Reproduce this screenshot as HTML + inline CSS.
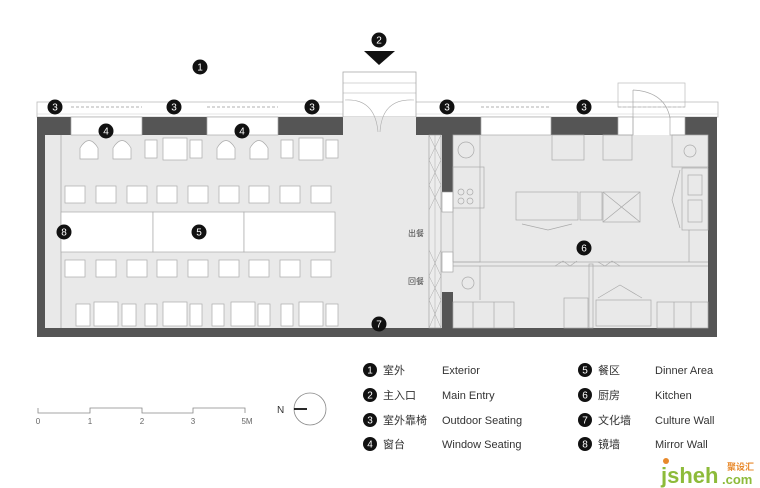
<!DOCTYPE html>
<html><head><meta charset="utf-8"><style>
html,body{margin:0;padding:0;background:#fff;}
svg{display:block;}
text{font-family:"Liberation Sans","Noto Sans CJK SC",sans-serif;}
</style></head><body>
<svg width="760" height="488" viewBox="0 0 760 488" xmlns="http://www.w3.org/2000/svg">
<rect x="37" y="102" width="681" height="15" fill="#fff" stroke="#bbb" stroke-width="0.8"/>
<line x1="37" y1="114" x2="718" y2="114" stroke="#ccc" stroke-width="0.6"/>
<rect x="45" y="135" width="663" height="193" fill="#e9e9e9"/>
<g fill="#555">
<rect x="37" y="117" width="8" height="220"/>
<rect x="37" y="328" width="680" height="9"/>
<rect x="708" y="117" width="9" height="220"/>
<rect x="37" y="117" width="34" height="18"/>
<rect x="142" y="117" width="65" height="18"/>
<rect x="278" y="117" width="65" height="18"/>
<rect x="416" y="117" width="65" height="18"/>
<rect x="551" y="117" width="67" height="18"/>
<rect x="685" y="117" width="32" height="18"/>
<rect x="442" y="135" width="11" height="57"/>
<rect x="442" y="292" width="11" height="36"/>
</g>
<g fill="#fff" stroke="#aaa" stroke-width="0.7">
<rect x="71" y="117" width="71" height="18"/><rect x="207" y="117" width="71" height="18"/>
<rect x="481" y="117" width="70" height="18"/>
<rect x="618" y="117" width="15" height="18"/><rect x="670" y="117" width="15" height="18"/>
</g>
<g stroke="#999" stroke-width="0.7" stroke-dasharray="3,2" fill="none">
<line x1="71" y1="107" x2="142" y2="107"/><line x1="207" y1="107" x2="278" y2="107"/>
<line x1="481" y1="107" x2="551" y2="107"/><line x1="618" y1="107" x2="685" y2="107"/>
</g>
<rect x="343" y="72" width="73" height="45" fill="#fff" stroke="#aaa" stroke-width="0.8"/>
<rect x="343" y="117" width="73" height="18" fill="#e9e9e9"/>
<line x1="343" y1="83" x2="416" y2="83" stroke="#aaa" stroke-width="0.6"/>
<line x1="343" y1="93" x2="416" y2="93" stroke="#aaa" stroke-width="0.6"/>
<path d="M345 100 Q375 98 378 132 M414 100 Q382 98 380 132" stroke="#aaa" fill="none" stroke-width="0.6"/>
<polygon points="364,51 395,51 379,65" fill="#111"/>
<rect x="618" y="83" width="67" height="24" fill="none" stroke="#bbb" stroke-width="0.7"/>
<path d="M633 90 L633 135 M633 90 Q665 92 670 118" stroke="#aaa" fill="none" stroke-width="0.7"/>
<line x1="61" y1="135" x2="61" y2="328" stroke="#aaa" stroke-width="0.8"/>
<rect x="429" y="135" width="12" height="193" fill="#ececec" stroke="#999" stroke-width="0.6"/>
<line x1="435" y1="135" x2="435" y2="328" stroke="#aaa" stroke-width="0.5"/>
<path d="M429 135 L441 160 L429 185 L441 210 M429 250 L441 276 L429 300 L441 328 M441 135 L429 160 L441 185 L429 210 M441 250 L429 276 L441 300 L429 328" stroke="#aaa" fill="none" stroke-width="0.5"/>
<rect x="442" y="192" width="11" height="20" fill="#fff" stroke="#999" stroke-width="0.6"/>
<rect x="442" y="252" width="11" height="20" fill="#fff" stroke="#999" stroke-width="0.6"/>
<text x="408" y="236" font-size="8" fill="#444">出餐</text>
<text x="408" y="284" font-size="8" fill="#444">回餐</text>
<g fill="#fff" stroke="#aaa" stroke-width="0.7">
<path d="M80 159 L80 148 Q89 133 98 148 L98 159Z"/><path d="M113 159 L113 148 Q122 133 131 148 L131 159Z"/>
<path d="M217 159 L217 148 Q226 133 235 148 L235 159Z"/><path d="M250 159 L250 148 Q259 133 268 148 L268 159Z"/>
<rect x="145" y="140" width="12" height="18"/><rect x="163" y="138" width="24" height="22"/><rect x="190" y="140" width="12" height="18"/>
<rect x="281" y="140" width="12" height="18"/><rect x="299" y="138" width="24" height="22"/><rect x="326" y="140" width="12" height="18"/>
<rect x="61" y="212" width="92" height="40"/><rect x="153" y="212" width="91" height="40"/><rect x="244" y="212" width="91" height="40"/>
<rect x="76" y="304" width="14" height="22"/><rect x="94" y="302" width="24" height="24"/><rect x="122" y="304" width="14" height="22"/>
<rect x="145" y="304" width="12" height="22"/><rect x="163" y="302" width="24" height="24"/><rect x="190" y="304" width="12" height="22"/>
<rect x="212" y="304" width="12" height="22"/><rect x="231" y="302" width="24" height="24"/><rect x="258" y="304" width="12" height="22"/>
<rect x="281" y="304" width="12" height="22"/><rect x="299" y="302" width="24" height="24"/><rect x="326" y="304" width="12" height="22"/>
</g>
<g fill="#fff" stroke="#aaa" stroke-width="0.7">
<rect x="65" y="186" width="20" height="17"/><rect x="96" y="186" width="20" height="17"/><rect x="127" y="186" width="20" height="17"/><rect x="157" y="186" width="20" height="17"/><rect x="188" y="186" width="20" height="17"/><rect x="219" y="186" width="20" height="17"/><rect x="249" y="186" width="20" height="17"/><rect x="280" y="186" width="20" height="17"/><rect x="311" y="186" width="20" height="17"/>
<rect x="65" y="260" width="20" height="17"/><rect x="96" y="260" width="20" height="17"/><rect x="127" y="260" width="20" height="17"/><rect x="157" y="260" width="20" height="17"/><rect x="188" y="260" width="20" height="17"/><rect x="219" y="260" width="20" height="17"/><rect x="249" y="260" width="20" height="17"/><rect x="280" y="260" width="20" height="17"/><rect x="311" y="260" width="20" height="17"/>
</g>
<g fill="none" stroke="#aaa" stroke-width="0.7">
<rect x="453" y="135" width="27" height="127"/>
<circle cx="466" cy="150" r="8"/>
<rect x="453" y="167" width="31" height="41"/>
<circle cx="461" cy="192" r="3"/><circle cx="470" cy="192" r="3"/><circle cx="461" cy="201" r="3"/><circle cx="470" cy="201" r="3"/>
<rect x="552" y="135" width="32" height="25"/><rect x="603" y="135" width="29" height="25"/>
<rect x="516" y="192" width="62" height="28"/><rect x="580" y="192" width="22" height="28"/><rect x="603" y="192" width="37" height="30"/>
<path d="M603 192 L640 222 M640 192 L603 222"/>
<path d="M522 224 L548 230 L572 224"/>
<rect x="672" y="135" width="36" height="32"/><circle cx="690" cy="151" r="6"/>
<rect x="682" y="168" width="26" height="62"/><rect x="688" y="175" width="14" height="20"/><rect x="688" y="200" width="14" height="22"/>
<path d="M680 170 L672 200 L680 228"/>
<line x1="689" y1="230" x2="689" y2="262"/>
<line x1="453" y1="262" x2="708" y2="262"/><line x1="453" y1="266" x2="708" y2="266"/>
<path d="M555 266 L563 261 L570 266 L577 261 M598 262 L605 266 L612 261 L620 266"/>
<line x1="480" y1="266" x2="480" y2="300"/>
<circle cx="468" cy="283" r="6"/>
<rect x="453" y="302" width="61" height="26"/><line x1="473" y1="302" x2="473" y2="328"/><line x1="494" y1="302" x2="494" y2="328"/>
<rect x="657" y="302" width="51" height="26"/><line x1="674" y1="302" x2="674" y2="328"/><line x1="691" y1="302" x2="691" y2="328"/>
<rect x="589" y="264" width="4" height="64"/>
<rect x="564" y="298" width="24" height="30"/>
<rect x="596" y="300" width="55" height="26"/>
<path d="M598 298 L620 285 L642 298"/>
</g>
<g fill="#111">
<circle cx="200" cy="67" r="7.5"/><circle cx="379" cy="40" r="7.5"/>
<circle cx="55" cy="107" r="7.5"/><circle cx="174" cy="107" r="7.5"/><circle cx="312" cy="107" r="7.5"/><circle cx="447" cy="107" r="7.5"/><circle cx="584" cy="107" r="7.5"/>
<circle cx="106" cy="131" r="7.5"/><circle cx="242" cy="131" r="7.5"/>
<circle cx="199" cy="232" r="7.5"/><circle cx="64" cy="232" r="7.5"/><circle cx="584" cy="248" r="7.5"/><circle cx="379" cy="324" r="7.5"/>
<circle cx="370" cy="370" r="7"/><circle cx="370" cy="395" r="7"/><circle cx="370" cy="420" r="7"/><circle cx="370" cy="444" r="7"/>
<circle cx="585" cy="370" r="7"/><circle cx="585" cy="395" r="7"/><circle cx="585" cy="420" r="7"/><circle cx="585" cy="444" r="7"/>
</g>
<g fill="#fff" font-size="10" text-anchor="middle">
<text x="200" y="70.5">1</text><text x="379" y="43.5">2</text>
<text x="55" y="110.5">3</text><text x="174" y="110.5">3</text><text x="312" y="110.5">3</text><text x="447" y="110.5">3</text><text x="584" y="110.5">3</text>
<text x="106" y="134.5">4</text><text x="242" y="134.5">4</text>
<text x="199" y="235.5">5</text><text x="64" y="235.5">8</text><text x="584" y="251.5">6</text><text x="379" y="327.5">7</text>
<text x="370" y="373.5">1</text><text x="370" y="398.5">2</text><text x="370" y="423.5">3</text><text x="370" y="447.5">4</text>
<text x="585" y="373.5">5</text><text x="585" y="398.5">6</text><text x="585" y="423.5">7</text><text x="585" y="447.5">8</text>
</g>
<g font-size="11" fill="#333">
<text x="383" y="374">室外</text><text x="442" y="374">Exterior</text>
<text x="383" y="399">主入口</text><text x="442" y="399">Main Entry</text>
<text x="383" y="424">室外靠椅</text><text x="442" y="424">Outdoor Seating</text>
<text x="383" y="448">窗台</text><text x="442" y="448">Window Seating</text>
<text x="598" y="374">餐区</text><text x="655" y="374">Dinner Area</text>
<text x="598" y="399">厨房</text><text x="655" y="399">Kitchen</text>
<text x="598" y="424">文化墙</text><text x="655" y="424">Culture Wall</text>
<text x="598" y="448">镜墙</text><text x="655" y="448">Mirror Wall</text>
</g>
<path d="M38 408 L38 413 L90 413 L90 408 L142 408 L142 413 L193 413 L193 408 L245 408 L245 413" fill="none" stroke="#888" stroke-width="0.8"/>
<g font-size="8" fill="#666" text-anchor="middle">
<text x="38" y="424">0</text><text x="90" y="424">1</text><text x="142" y="424">2</text><text x="193" y="424">3</text><text x="247" y="424">5M</text>
</g>
<circle cx="310" cy="409" r="16" fill="none" stroke="#888" stroke-width="0.8"/>
<line x1="294" y1="409" x2="307" y2="409" stroke="#111" stroke-width="1.8"/>
<text x="277" y="413" font-size="10" fill="#333">N</text>
<text x="661" y="483" font-size="22" font-weight="bold" fill="#8dbb3a">jsheh</text>
<text x="722" y="484" font-size="13" font-weight="bold" fill="#8dbb3a">.com</text>
<text x="727" y="470" font-size="9" font-weight="bold" fill="#e8892b">聚设汇</text>
<circle cx="666" cy="461" r="3" fill="#e8892b"/>
</svg>
</body></html>
